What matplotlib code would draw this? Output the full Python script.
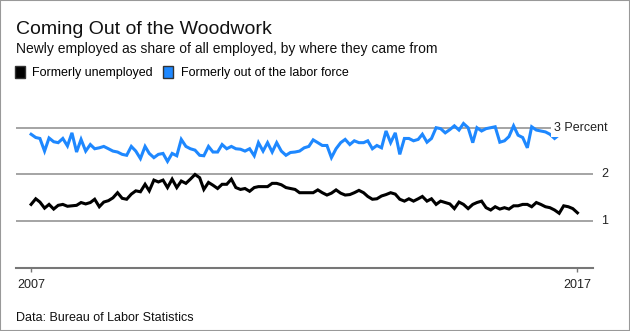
import matplotlib
matplotlib.use("Agg")
import matplotlib.pyplot as plt
from matplotlib.patches import Patch, Rectangle
import pandas as pd

plt.rcParams['font.family'] = ['Liberation Sans', 'DejaVu Sans']

# monthly, Jan 2007 - Jan 2017, percent of all employed
dates = pd.date_range('2007-01-01', periods=121, freq='MS')

unemployed = [
    1.36, 1.48, 1.41, 1.28, 1.36, 1.26, 1.34, 1.36, 1.32, 1.33,
    1.34, 1.40, 1.37, 1.40, 1.47, 1.31, 1.41, 1.44, 1.50, 1.61,
    1.49, 1.47, 1.58, 1.65, 1.63, 1.79, 1.65, 1.88, 1.84, 1.88,
    1.72, 1.90, 1.72, 1.86, 1.81, 1.90, 2.00, 1.93, 1.68, 1.83,
    1.77, 1.70, 1.79, 1.79, 1.90, 1.72, 1.68, 1.70, 1.64, 1.72,
    1.74, 1.74, 1.74, 1.81, 1.81, 1.78, 1.72, 1.70, 1.68, 1.61,
    1.61, 1.61, 1.61, 1.67, 1.61, 1.56, 1.60, 1.67, 1.60, 1.56,
    1.57, 1.61, 1.66, 1.61, 1.53, 1.47, 1.48, 1.54, 1.57, 1.61,
    1.58, 1.47, 1.43, 1.48, 1.43, 1.48, 1.53, 1.43, 1.48, 1.36,
    1.43, 1.40, 1.37, 1.27, 1.41, 1.36, 1.27, 1.36, 1.40, 1.43,
    1.29, 1.24, 1.31, 1.26, 1.29, 1.26, 1.33, 1.33, 1.36, 1.36,
    1.31, 1.40, 1.36, 1.31, 1.29, 1.24, 1.17, 1.33, 1.31, 1.27,
    1.18,
]

out_of_labor = [
    2.86, 2.79, 2.77, 2.50, 2.78, 2.70, 2.68, 2.77, 2.61, 2.89,
    2.48, 2.75, 2.50, 2.64, 2.55, 2.57, 2.60, 2.55, 2.50, 2.48,
    2.43, 2.41, 2.60, 2.50, 2.34, 2.60, 2.45, 2.36, 2.43, 2.45,
    2.28, 2.45, 2.40, 2.75, 2.60, 2.55, 2.52, 2.41, 2.40, 2.60,
    2.48, 2.48, 2.64, 2.55, 2.60, 2.55, 2.54, 2.50, 2.55, 2.40,
    2.68, 2.50, 2.68, 2.48, 2.68, 2.50, 2.41, 2.47, 2.48, 2.50,
    2.57, 2.60, 2.74, 2.68, 2.62, 2.62, 2.36, 2.55, 2.68, 2.75,
    2.64, 2.72, 2.68, 2.68, 2.72, 2.55, 2.62, 2.57, 2.93, 2.68,
    2.89, 2.43, 2.77, 2.77, 2.72, 2.75, 2.86, 2.69, 2.77, 3.00,
    2.98, 2.89, 2.96, 3.04, 2.95, 3.09, 3.00, 2.68, 3.00, 2.93,
    2.98, 3.00, 3.02, 2.69, 2.72, 2.81, 3.04, 2.84, 2.79, 2.57,
    3.02, 2.95, 2.93, 2.91, 2.86, 2.77, 2.85, 2.85, 3.18, 2.85,
    2.90,
]

grid_values = [1, 2, 3]
grid_labels = ['1', '2', '3 Percent']
year_ticks = [pd.Timestamp('2007-01-01'), pd.Timestamp('2017-01-01')]
year_labels = ['2007', '2017']

black = '#000000'
blue = '#1e88ff'

W, H = 630, 331
fig = plt.figure(figsize=(W / 100, H / 100), dpi=100)
ax = fig.add_axes([16 / W, (H - 268) / H, (593 - 16) / W, (268 - 109) / H])

for v in grid_values:
    ax.axhline(v, color='#8c8c8c', lw=1.1, zorder=1)

ax.plot(dates, unemployed, color=black, lw=2.2, zorder=3, solid_joinstyle='miter')
ax.plot(dates, out_of_labor, color=blue, lw=2.2, zorder=3, solid_joinstyle='miter')

ax.set_ylim(0, 3.4)
ax.set_xlim(pd.Timestamp('2006-09-22'), pd.Timestamp('2017-04-15'))

for s in ['left', 'right', 'top']:
    ax.spines[s].set_visible(False)
ax.spines['bottom'].set_color('#777777')
ax.spines['bottom'].set_linewidth(1.5)
ax.set_yticks([])
ax.set_xticks(year_ticks)
ax.set_xticklabels(year_labels)
ax.tick_params(axis='x', direction='out', length=3, width=1, color='#777777',
               labelsize=9, labelcolor='#222222', pad=5)

# right-hand value labels, white box hides the lines behind them
for v, lab in zip(grid_values, grid_labels):
    ax.text(1.026, v, lab, transform=ax.get_yaxis_transform(), ha='right',
            va='center', fontsize=9, color='#222222', zorder=5,
            bbox=dict(facecolor='white', edgecolor='none', pad=2.5))

fig.text(16 / W, 1 - 33.5 / H, 'Coming Out of the Woodwork', fontsize=14,
         color='#111111', va='baseline')
fig.text(16 / W, 1 - 53 / H,
         'Newly employed as share of all employed, by where they came from',
         fontsize=10, color='#111111', va='baseline')
fig.text(16 / W, 1 - 321 / H, 'Data: Bureau of Labor Statistics', fontsize=9,
         color='#111111', va='baseline')

handles = [Patch(facecolor=black, edgecolor='#333333', label='Formerly unemployed'),
           Patch(facecolor=blue, edgecolor='#333333', label='Formerly out of the labor force')]
fig.legend(handles=handles, loc='upper left', bbox_to_anchor=(15 / W, 1 - 66 / H),
           ncol=2, frameon=False, fontsize=9, handlelength=0.8, handleheight=1.1,
           handletextpad=0.6, columnspacing=0.8, borderpad=0, borderaxespad=0)

fig.add_artist(Rectangle((0, 0), 1, 1, transform=fig.transFigure, fill=False,
                         edgecolor='#999999', lw=1.5))

fig.savefig('out.png', dpi=100)
